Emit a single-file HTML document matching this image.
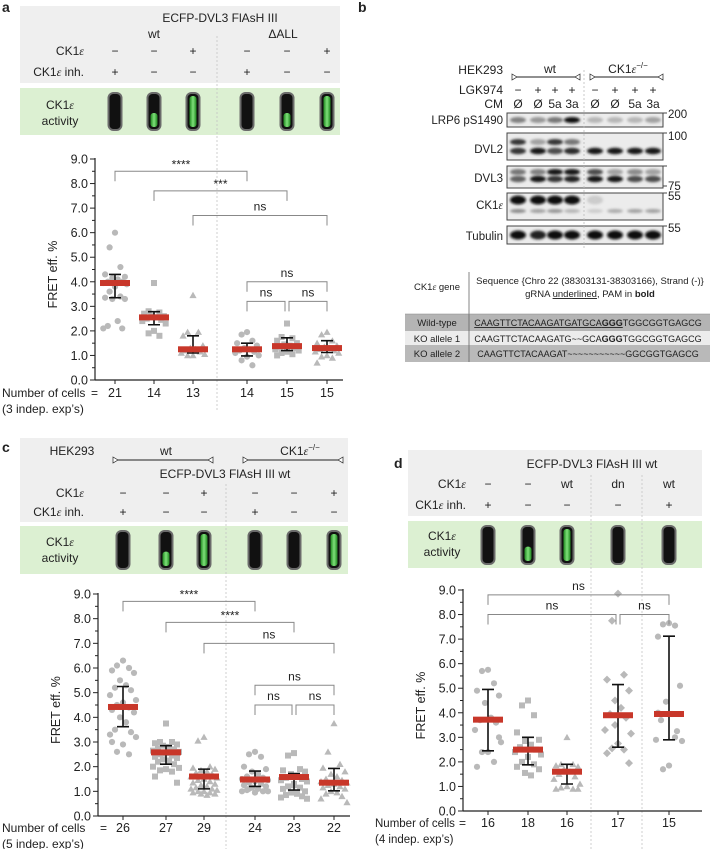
<!DOCTYPE html>
<html><head><meta charset="utf-8"><style>
body{margin:0;background:#fff;}
svg{display:block;font-family:"Liberation Sans",sans-serif;}
text{fill:#222;}
</style></head><body>
<svg id="fig" width="710" height="849" viewBox="0 0 710 849" xmlns="http://www.w3.org/2000/svg">
<defs>
<linearGradient id="gr" x1="0" x2="1"><stop offset="0" stop-color="#1f8a1f"/><stop offset="0.5" stop-color="#7fe07a"/><stop offset="1" stop-color="#1f8a1f"/></linearGradient>
<filter id="bl" x="-20%" y="-100%" width="140%" height="300%"><feGaussianBlur stdDeviation="1.3"/></filter>
</defs>
<g>
<text x="2" y="12" font-weight="bold" font-size="14">a</text>
<rect x="20" y="6" width="320" height="77" fill="#efefef"/>
<text x="220" y="22" font-size="12" text-anchor="middle">ECFP-DVL3 FlAsH III</text>
<text x="154" y="38" font-size="12" text-anchor="middle">wt</text>
<text x="283" y="38" font-size="12" text-anchor="middle">ΔALL</text>
<text x="84" y="55" font-size="12" text-anchor="end">CK1<tspan font-family="Liberation Serif" font-style="italic">ε</tspan></text>
<text x="84" y="76" font-size="12" text-anchor="end">CK1<tspan font-family="Liberation Serif" font-style="italic">ε</tspan> inh.</text>
<rect x="20" y="88" width="320" height="47" fill="#dcf0d2"/>
<text x="60" y="109" font-size="12" text-anchor="middle">CK1<tspan font-family="Liberation Serif" font-style="italic">ε</tspan></text>
<text x="60" y="125" font-size="12" text-anchor="middle">activity</text>
</g>
<g>
<text x="2" y="452" font-weight="bold" font-size="14">c</text>
<rect x="20" y="438" width="328" height="84" fill="#efefef"/>
<text x="72" y="455" font-size="12" text-anchor="middle">HEK293</text>
<text x="166" y="455" font-size="12" text-anchor="middle">wt</text>
<text x="300" y="455" font-size="12" text-anchor="middle">CK1<tspan font-family="Liberation Serif" font-style="italic">ε</tspan><tspan font-size="8" dy="-5">−/−</tspan></text>
<g id="carrows"></g>
<text x="225" y="478" font-size="12" text-anchor="middle">ECFP-DVL3 FlAsH III wt</text>
<text x="84" y="497" font-size="12" text-anchor="end">CK1<tspan font-family="Liberation Serif" font-style="italic">ε</tspan></text>
<text x="84" y="516" font-size="12" text-anchor="end">CK1<tspan font-family="Liberation Serif" font-style="italic">ε</tspan> inh.</text>
<rect x="20" y="526" width="328" height="48" fill="#dcf0d2"/>
<text x="60" y="546" font-size="12" text-anchor="middle">CK1<tspan font-family="Liberation Serif" font-style="italic">ε</tspan></text>
<text x="60" y="562" font-size="12" text-anchor="middle">activity</text>
</g>
<g>
<text x="394" y="468" font-weight="bold" font-size="14">d</text>
<rect x="408" y="450" width="294" height="66" fill="#efefef"/>
<text x="592" y="468" font-size="12" text-anchor="middle">ECFP-DVL3 FlAsH III wt</text>
<text x="466" y="488" font-size="12" text-anchor="end">CK1<tspan font-family="Liberation Serif" font-style="italic">ε</tspan></text>
<text x="466" y="509" font-size="12" text-anchor="end">CK1<tspan font-family="Liberation Serif" font-style="italic">ε</tspan> inh.</text>
<rect x="408" y="521" width="294" height="47" fill="#dcf0d2"/>
<text x="442" y="540" font-size="12" text-anchor="middle">CK1<tspan font-family="Liberation Serif" font-style="italic">ε</tspan></text>
<text x="442" y="556" font-size="12" text-anchor="middle">activity</text>
</g>
<g>
<text x="358" y="12" font-weight="bold" font-size="14">b</text>
<text x="503" y="74" font-size="12" text-anchor="end">HEK293</text>
<text x="550" y="73" font-size="12" text-anchor="middle">wt</text>
<text x="628" y="73" font-size="12" text-anchor="middle">CK1<tspan font-family="Liberation Serif" font-style="italic">ε</tspan><tspan font-size="8" dy="-5">−/−</tspan></text>
<text x="503" y="94" font-size="12" text-anchor="end">LGK974</text>
<text x="503" y="108" font-size="12" text-anchor="end">CM</text>
<text x="503" y="124" font-size="11.5" text-anchor="end">LRP6 pS1490</text>
<text x="503" y="153" font-size="11.5" text-anchor="end">DVL2</text>
<text x="503" y="182" font-size="11.5" text-anchor="end">DVL3</text>
<text x="503" y="209" font-size="11.5" text-anchor="end">CK1<tspan font-family="Liberation Serif" font-style="italic">ε</tspan></text>
<text x="503" y="240" font-size="11.5" text-anchor="end">Tubulin</text>
<text x="668" y="118" font-size="11.5">200</text>
<text x="668" y="140" font-size="11.5">100</text>
<text x="668" y="190" font-size="11.5">75</text>
<text x="668" y="200" font-size="11.5">55</text>
<text x="668" y="232" font-size="11.5">55</text>
<g id="blots"></g>
<g>
<rect x="405" y="314" width="305" height="17" fill="#b4b4b4"/>
<rect x="405" y="331" width="305" height="14" fill="#ececec"/>
<rect x="405" y="345" width="305" height="17" fill="#b9b9b9"/>
<line x1="469" y1="272" x2="469" y2="362" stroke="#666" stroke-width="0.8"/>
<line x1="405" y1="314" x2="710" y2="314" stroke="#888" stroke-width="0.6"/>
<text x="437" y="290" font-size="9.5" text-anchor="middle">CK1<tspan font-family="Liberation Serif" font-style="italic">ε</tspan> gene</text>
<text x="590" y="284" font-size="9.5" text-anchor="middle">Sequence {Chro 22 (38303131-38303166), Strand (-)}</text>
<text x="590" y="297" font-size="9.5" text-anchor="middle">gRNA <tspan text-decoration="underline">underlined</tspan>, PAM in <tspan font-weight="bold">bold</tspan></text>
<text x="437" y="326" font-size="9.5" text-anchor="middle">Wild-type</text>
<text x="437" y="342" font-size="9.5" text-anchor="middle">KO allele 1</text>
<text x="437" y="357" font-size="9.5" text-anchor="middle">KO allele 2</text>
<text x="588" y="326" font-size="9" text-anchor="middle"><tspan text-decoration="underline">CAAGTTCTACAAGATGATGCA</tspan><tspan font-weight="bold" text-decoration="underline">GGG</tspan>TGGCGGTGAGCG</text>
<text x="588" y="342" font-size="9" text-anchor="middle">CAAGTTCTACAAGATG~~GCA<tspan font-weight="bold">GGG</tspan>TGGCGGTGAGCG</text>
<text x="588" y="357" font-size="9" text-anchor="middle">CAAGTTCTACAAGAT~~~~~~~~~~~GGCGGTGAGCG</text>
</g>
</g>
<g id="charts"></g>
</svg>
<script>
const aCats = ["21","14","13","14","15","15"];
const aMeans = [3.95,2.55,1.25,1.25,1.38,1.3];
const aLow = [3.35,2.25,1.1,0.98,1.2,1.12];
const aHigh = [4.3,2.78,1.8,1.5,1.72,1.6];
const aShapes = ["c","s","t","c","s","t"];
const aPoints = [
 [6.0,5.4,4.6,4.3,4.2,4.15,4.1,4.0,4.0,3.95,3.9,3.8,3.6,3.4,3.35,3.3,3.3,2.4,2.2,2.1,2.1],
 [3.95,2.8,2.75,2.7,2.6,2.6,2.55,2.5,2.45,2.4,2.3,2.0,1.9,1.8],
 [3.45,1.95,1.95,1.8,1.4,1.3,1.25,1.2,1.15,1.1,1.05,1.0,1.0],
 [1.95,1.85,1.6,1.5,1.4,1.3,1.25,1.2,1.15,1.1,1.0,0.95,0.8,0.6],
 [2.3,1.75,1.7,1.6,1.5,1.45,1.4,1.35,1.3,1.25,1.2,1.15,1.1,1.05,1.0],
 [1.95,1.85,1.6,1.5,1.4,1.35,1.3,1.25,1.2,1.15,1.1,1.0,0.95,0.9,0.7]];
const aBrackets = [[0,3,8.5,"****"],[1,4,7.7,"***"],[2,5,6.7,"ns"],[3,5,4.0,"ns"],[3,4,3.2,"ns"],[4,5,3.2,"ns"]];
const aCk1 = ["−","−","+","−","−","+"];
const aInh = ["+","−","−","+","−","−"];
const aAct = [0,0.45,1,0,0.45,1];

const cCats = ["26","27","29","24","23","22"];
const cMeans = [4.42,2.58,1.6,1.48,1.58,1.35];
const cLow = [3.62,2.1,1.1,1.2,1.05,1.02];
const cHigh = [5.25,2.85,1.9,1.82,1.72,1.93];
const cShapes = ["c","s","t","c","s","t"];
const cPoints = [
 [6.3,6.1,6.0,5.9,5.8,5.5,5.3,5.2,5.1,4.9,4.7,4.6,4.5,4.4,4.3,4.2,4.0,3.8,3.5,3.4,3.3,3.2,2.9,2.6,2.5,3.0],
 [3.75,3.0,3.0,2.95,2.9,2.85,2.8,2.75,2.7,2.65,2.6,2.55,2.5,2.45,2.4,2.35,2.3,2.25,2.2,2.1,2.0,1.95,1.9,1.85,1.8,1.6,1.35],
 [3.2,3.05,2.0,1.95,1.9,1.85,1.8,1.75,1.7,1.6,1.55,1.5,1.45,1.4,1.35,1.3,1.25,1.2,1.15,1.1,1.1,1.05,1.0,1.0,0.95,0.95,0.9,0.9,0.85],
 [2.6,2.5,2.4,2.0,1.9,1.8,1.7,1.6,1.55,1.5,1.45,1.4,1.35,1.3,1.25,1.2,1.15,1.1,1.05,1.0,1.0,1.0,0.95,1.1],
 [2.55,2.45,1.9,1.85,1.8,1.7,1.6,1.55,1.5,1.45,1.4,1.3,1.2,1.15,1.1,1.0,0.95,0.9,0.85,0.8,0.75,0.7,1.25],
 [3.75,2.6,2.1,1.95,1.8,1.7,1.6,1.5,1.45,1.4,1.35,1.3,1.25,1.2,1.15,1.1,1.0,0.95,0.9,0.8,0.7,0.55]];
const cBrackets = [[0,3,8.7,"****"],[1,4,7.85,"****"],[2,5,7.0,"ns"],[3,5,5.3,"ns"],[3,4,4.5,"ns"],[4,5,4.5,"ns"]];
const cCk1 = ["−","−","+","−","−","+"];
const cInh = ["+","−","−","+","−","−"];
const cAct = [0,0.45,1,0,0,1];

const dCats = ["16","18","16","17","15"];
const dMeans = [3.72,2.5,1.6,3.9,3.95];
const dLow = [2.45,1.88,1.1,2.6,2.9];
const dHigh = [4.95,3.0,1.9,5.15,7.12];
const dShapes = ["c","s","t","d","c"];
const dPoints = [
 [5.75,5.7,5.2,4.9,4.7,4.4,3.8,3.7,3.6,3.3,2.8,2.4,2.4,2.0,1.8,3.0],
 [4.5,4.3,3.9,3.2,2.9,2.85,2.7,2.6,2.5,2.4,2.3,2.2,2.0,1.9,1.8,1.7,1.55,1.45],
 [3.0,1.9,1.9,1.85,1.8,1.7,1.6,1.5,1.4,1.3,1.1,1.0,0.95,0.9,0.9,0.9],
 [8.85,7.75,5.55,5.35,4.9,4.5,4.2,3.95,3.8,3.3,3.15,2.75,2.55,2.5,2.35,1.95,3.5],
 [7.65,7.6,7.55,7.1,5.1,4.45,3.95,3.7,3.25,2.9,2.85,1.85,1.7,3.0,4.0]];
const dBrackets = [[0,4,8.8,"ns"],[0,3,8.0,"ns"],[3,4,8.0,"ns"]];
const dCk1 = ["−","−","wt","dn","wt"];
const dInh = ["+","−","−","−","+"];
const dAct = [0,0.45,1,0,0];

const yTicks = ["0.0","1.0","2.0","3.0","4.0","5.0","6.0","7.0","8.0","9.0"];

const blotLRP6 = [0.45,0.35,0.5,1.0,0.2,0.2,0.2,0.3];
const blotDVL2up = [0.8,0.3,0.8,0.5,0,0,0,0];
const blotDVL2lo = [0.8,0.95,0.7,0.85,0.95,0.95,0.95,0.95];
const blotDVL3up = [0.5,0.45,0.95,0.95,0.7,0.3,0.4,0.3];
const blotDVL3lo = [0.6,0.95,0.8,0.9,0.95,0.95,0.7,0.7];
const blotCK1 = [1,1,1,1,0.1,0,0,0];
const blotCK1lo = [0.4,0.3,0.35,0.2,0.1,0.25,0.3,0.3];
const blotTub = [1,0.9,1,1,1,1,1,1];
const laneLGK = ["−","+","+","+","−","+","+","+"];
const laneCM = ["Ø","Ø","5a","3a","Ø","Ø","5a","3a"];

const NS = "http://www.w3.org/2000/svg";
function mk(tag, attrs, parent){const e=document.createElementNS(NS,tag);for(const k in attrs)e.setAttribute(k,attrs[k]);parent.appendChild(e);return e;}
const root = document.getElementById("charts");
const MARK = "#b9b9b9";
const jit = [0,-6,6,-11,11,-3,3,-8,8,-13,13];

function arrow(g,x1,x2,y){
  mk("line",{x1:x1,y1:y,x2:x2,y2:y,stroke:"#222","stroke-width":1},g);
  mk("polygon",{points:`${x1},${y-3} ${x1+5},${y} ${x1},${y+3}`,fill:"#fff",stroke:"#222","stroke-width":0.7},g);
  mk("polygon",{points:`${x2},${y-3} ${x2-5},${y} ${x2},${y+3}`,fill:"#fff",stroke:"#222","stroke-width":0.7},g);
}
(function(){const g=document.getElementById("carrows");arrow(g,113,213,460);arrow(g,243,343,460);})();

function marker(g, shape, x, y){
  let e;
  if(shape==="c") e=mk("circle",{cx:x,cy:y,r:3.1,fill:MARK},g);
  else if(shape==="s") e=mk("rect",{x:x-3,y:y-3,width:6,height:6,fill:MARK},g);
  else if(shape==="t") e=mk("polygon",{points:`${x},${y-3.5} ${x+3.6},${y+2.8} ${x-3.6},${y+2.8}`,fill:MARK},g);
  else e=mk("polygon",{points:`${x},${y-4} ${x+4},${y} ${x},${y+4} ${x-4},${y}`,fill:MARK},g);
  
  
}

function tube(g, x, y0, y1, frac){
  const w=13, r=mk("rect",{x:x-w/2,y:y0,width:w,height:y1-y0,rx:5,fill:"#111",stroke:"#6b6b6b","stroke-width":2},g);
  
  
  if(frac>0){
    const h=(y1-y0-6)*frac;
    mk("rect",{x:x-3.5,y:y1-3-h,width:7,height:h,rx:3,fill:"url(#gr)"},g);
  }
}

function chart(name, cats, means, low, high, shapes, points, brackets, ck1, inh, act, o){
  const g = mk("g",{},root);
  
  
  const yS = v => o.y0 + (o.y9 - o.y0)*v/9;
  const xS = i => o.xs[i];
  o.dash.forEach(d=>{const l=mk("line",{x1:d[0],y1:d[1],x2:d[0],y2:d[2],stroke:"#c4c4c4","stroke-width":0.8,"stroke-dasharray":"2,2"},g);
    });
  cats.forEach((c,i)=>{
    const t1=mk("text",{x:xS(i),y:o.rowY[0],"font-size":12,"text-anchor":"middle"},g);t1.textContent=ck1[i];
    
    const t2=mk("text",{x:xS(i),y:o.rowY[1],"font-size":12,"text-anchor":"middle"},g);t2.textContent=inh[i];
    
    tube(g,xS(i),o.tubeY[0],o.tubeY[1],act[i]);
  });
  const ax=o.ax;
  const yl=mk("line",{x1:ax,y1:yS(9)-1,x2:ax,y2:yS(0),stroke:"#222","stroke-width":1.2},g);
  
  const xl=mk("line",{x1:ax,y1:yS(0),x2:o.xEnd,y2:yS(0),stroke:"#222","stroke-width":1.2},g);
  
  for(let k=0;k<=18;k++){
    const v=k/2, major=k%2===0;
    mk("line",{x1:ax-(major?5:3),y1:yS(v),x2:ax,y2:yS(v),stroke:"#222","stroke-width":1},g);
  }
  yTicks.forEach((t,k)=>{
    const e=mk("text",{x:ax-7,y:yS(k)+4.5,"font-size":12.5,"text-anchor":"end"},g);e.textContent=t;
    
  });
  cats.forEach((c,i)=>mk("line",{x1:xS(i),y1:yS(0),x2:xS(i),y2:yS(0)+4,stroke:"#222","stroke-width":1},g));
  const yt=mk("text",{x:0,y:0,"font-size":12.5,"text-anchor":"middle",transform:`translate(${ax-38},${(yS(0)+yS(9))/2+5}) rotate(-90)`},g);
  yt.textContent="FRET eff. %";
  
  points.forEach((arr,i)=>arr.forEach((v,j)=>marker(g,shapes[i],xS(i)+jit[j%jit.length]*o.jw,yS(v))));
  cats.forEach((c,i)=>{
    const x=xS(i);
    const eb=mk("path",{d:`M${x},${yS(low[i])}V${yS(high[i])}M${x-6},${yS(low[i])}H${x+6}M${x-6},${yS(high[i])}H${x+6}`,stroke:"#111","stroke-width":1.6,fill:"none"},g);
    
    const mb=mk("rect",{x:x-15,y:yS(means[i])-3,width:30,height:6,fill:"#c8372a"},g);
    
  });
  brackets.forEach(b=>{
    const x1=xS(b[0])+(b[0]>0&&brackets.some(q=>q[1]===b[0]&&q[2]===b[2])?2:0), x2=xS(b[1])-(brackets.some(q=>q[0]===b[1]&&q[2]===b[2])?2:0), y=yS(b[2]);
    const p=mk("path",{d:`M${x1},${y+10}V${y}H${x2}V${y+10}`,stroke:"#888","stroke-width":1,fill:"none"},g);
    
    const t=mk("text",{x:(x1+x2)/2,y:y-(b[3]==="ns"?5:3),"font-size":12,"text-anchor":"middle"},g);t.textContent=b[3];
    
  });
  cats.forEach((c,i)=>{const t=mk("text",{x:xS(i),y:o.nY,"font-size":12.5,"text-anchor":"middle"},g);t.textContent=c;
    });
  const n1=mk("text",{x:o.nX,y:o.nY,"font-size":o.nf},g);n1.textContent="Number of cells";
  
  const eq=mk("text",{x:o.eqX,y:o.nY,"font-size":12},g);eq.textContent="=";
  const n2=mk("text",{x:o.nX,y:o.nY+16,"font-size":o.nf},g);n2.textContent=o.exp;
  
}

chart("chart-a",aCats,aMeans,aLow,aHigh,aShapes,aPoints,aBrackets,aCk1,aInh,aAct,
 {y0:380,y9:159,xs:[115,154,193,247,287,327],ax:95,xEnd:343,rowY:[55,76],tubeY:[93,130],
  dash:[[217,36,410]],nY:397,nX:2,eqX:91,nf:12,exp:"(3 indep. exp’s)",jw:0.9});
chart("chart-c",cCats,cMeans,cLow,cHigh,cShapes,cPoints,cBrackets,cCk1,cInh,cAct,
 {y0:816,y9:594,xs:[123,166,204,255,294,334],ax:98,xEnd:350,rowY:[497,516],tubeY:[531,569],
  dash:[[226,484,849]],nY:832,nX:2,eqX:100,nf:12,exp:"(5 indep. exp’s)",jw:1.0});
chart("chart-d",dCats,dMeans,dLow,dHigh,dShapes,dPoints,dBrackets,dCk1,dInh,dAct,
 {y0:811,y9:590,xs:[488,528,567,618,669],ax:463,xEnd:702,rowY:[488,509],tubeY:[526,564],
  dash:[[591,475,849],[642,475,849]],nY:827,nX:375,eqX:459,nf:11.5,exp:"(4 indep. exp’s)",jw:1.0});

(function(){
  const g=document.getElementById("blots");
  const lanes=[518,538,555,572,595,615,635,653];
  const lw=15;
  arrow(g,512,580,77);arrow(g,590,663,77);
  lanes.forEach((x,i)=>{
    const t1=mk("text",{x:x,y:94,"font-size":12,"text-anchor":"middle"},g);t1.textContent=laneLGK[i];
    
    const t2=mk("text",{x:x,y:108,"font-size":12,"text-anchor":"middle"},g);t2.textContent=laneCM[i];
    
  });
  const boxes=[[113,127,[[blotLRP6,120,3]]],[133,160,[[blotDVL2up,142,3],[blotDVL2lo,151,3.2]]],
    [166,188,[[blotDVL3up,172,3],[blotDVL3lo,179,3.2]]],[193,220,[[blotCK1,200,4.5],[blotCK1lo,211,2]]],[226,244,[[blotTub,235,4.5]]]];
  const names=["blot-lrp6","blot-dvl2","blot-dvl3","blot-ck1e","blot-tubulin"];
  boxes.forEach((b,k)=>{
    const r=mk("rect",{x:507,y:b[0],width:156,height:b[1]-b[0],fill:"#ececec",stroke:"#444","stroke-width":1},g);
    
    b[2].forEach(band=>{
      band[0].forEach((v,i)=>{ if(v>0){
        const c=Math.round(225-215*v);
        mk("ellipse",{cx:lanes[i],cy:band[1],rx:lw/2+0.5,ry:band[2],fill:`rgb(${c},${c},${c})`,filter:"url(#bl)"},g);
      }});
    });
    mk("line",{x1:663,y1:b[0],x2:667,y2:b[0],stroke:"#444"},g);
  });
  mk("line",{x1:663,y1:186,x2:667,y2:186,stroke:"#444"},g);
  const s=mk("line",{x1:584,y1:70,x2:584,y2:250,stroke:"#bbb","stroke-width":0.8,"stroke-dasharray":"2,2"},g);
  
})();
</script>
</body></html>
